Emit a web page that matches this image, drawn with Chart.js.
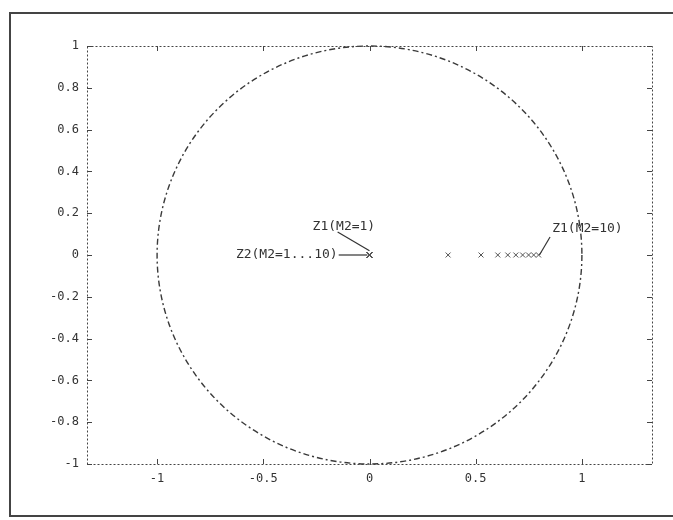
<!DOCTYPE html>
<html>
<head>
<meta charset="utf-8">
<script src="https://cdn.jsdelivr.net/npm/chart.js@4/dist/chart.umd.min.js"></script>
<style>
  html, body { margin: 0; padding: 0; background: #fff; }
  #wrap { width: 673px; height: 520px; position: relative; }
</style>
</head>
<body>
<div id="wrap"><canvas id="zplot"></canvas></div>
<script>
// --- data ---
const m2Values = [1, 2, 3, 4, 5, 6, 7, 8, 9, 10];
const z1Real = [0, 0.37, 0.525, 0.604, 0.651, 0.689, 0.721, 0.749, 0.773, 0.796];
const z1Imag = [0, 0, 0, 0, 0, 0, 0, 0, 0, 0];
const z2Real = [0, 0, 0, 0, 0, 0, 0, 0, 0, 0];
const z2Imag = [0, 0, 0, 0, 0, 0, 0, 0, 0, 0];
const circleRadius = [1];
const xTickValues = [-1, -0.5, 0, 0.5, 1];
const xTickLabels = ['-1', '-0.5', '0', '0.5', '1'];
const yTickValues = [-1, -0.8, -0.6, -0.4, -0.2, 0, 0.2, 0.4, 0.6, 0.8, 1];
const yTickLabels = ['-1', '-0.8', '-0.6', '-0.4', '-0.2', '0', '0.2', '0.4', '0.6', '0.8', '1'];
const noteTexts = ['Z1(M2=1)', 'Z2(M2=1...10)', 'Z1(M2=10)'];

const INK = '#333';
const FONT = "13px 'DejaVu Sans Mono', monospace";

// annotation placement (data coords)
const notes = [
    { text: noteTexts[0], tx: -0.268, ty: 0.134, align: 'left', line: [[-0.15, 0.11], [0.0, 0.02]] },
    { text: noteTexts[1], tx: -0.15, ty: 0.0, align: 'right', line: [[-0.145, 0], [-0.01, 0]] },
    { text: noteTexts[2], tx: 0.86, ty: 0.124, align: 'left', line: [[0.85, 0.086], [0.80, 0.0]] }
];

const toPoints = (xs, ys) => xs.map((x, i) => ({ x, y: ys[i] }));

const decor = {
    id: 'decor',
    beforeDraw(chart) {
        const { ctx } = chart;
        ctx.save();
        ctx.fillStyle = '#fff';
        ctx.fillRect(0, 0, chart.width, chart.height);
        // outer frame
        ctx.strokeStyle = '#444';
        ctx.lineWidth = 2;
        ctx.strokeRect(10, 13, 700, 503);
        ctx.restore();
    },
    beforeDatasetsDraw(chart) {
        const { ctx, scales: { x, y } } = chart;
        const cx = x.getPixelForValue(0), cy = y.getPixelForValue(0);
        const rx = x.getPixelForValue(circleRadius[0]) - cx;
        const ry = cy - y.getPixelForValue(circleRadius[0]);
        ctx.save();
        ctx.strokeStyle = '#3a3a3a';
        ctx.lineWidth = 1.4;
        ctx.setLineDash([6, 3, 2, 3]);
        ctx.beginPath();
        ctx.ellipse(cx, cy, rx, ry, 0, 0, Math.PI * 2);
        ctx.stroke();
        ctx.restore();
    },
    afterDatasetsDraw(chart) {
        const { ctx, scales: { x, y } } = chart;
        ctx.save();
        ctx.strokeStyle = INK;
        ctx.fillStyle = INK;
        ctx.lineWidth = 1.2;
        ctx.font = FONT;
        ctx.textBaseline = 'middle';
        notes.forEach(n => {
            ctx.beginPath();
            ctx.moveTo(x.getPixelForValue(n.line[0][0]), y.getPixelForValue(n.line[0][1]));
            ctx.lineTo(x.getPixelForValue(n.line[1][0]), y.getPixelForValue(n.line[1][1]));
            ctx.stroke();
            ctx.textAlign = n.align;
            ctx.fillText(n.text, x.getPixelForValue(n.tx), y.getPixelForValue(n.ty));
        });
        ctx.restore();
    },
    afterDraw(chart) {
        const { ctx, chartArea: a, scales: { x, y } } = chart;
        ctx.save();
        ctx.strokeStyle = '#444';
        ctx.lineWidth = 1;
        ctx.setLineDash([2, 2]);
        ctx.strokeRect(a.left + 0.5, a.top + 0.5, a.right - a.left, a.bottom - a.top);
        ctx.setLineDash([]);
        ctx.beginPath();
        x.ticks.forEach(t => {
            const px = Math.round(x.getPixelForValue(t.value)) + 0.5;
            ctx.moveTo(px, a.top); ctx.lineTo(px, a.top + 5);
            ctx.moveTo(px, a.bottom); ctx.lineTo(px, a.bottom - 5);
        });
        y.ticks.forEach(t => {
            const py = Math.round(y.getPixelForValue(t.value)) + 0.5;
            ctx.moveTo(a.left, py); ctx.lineTo(a.left + 5, py);
            ctx.moveTo(a.right, py); ctx.lineTo(a.right - 5, py);
        });
        ctx.stroke();
        ctx.restore();
    }
};

new Chart(document.getElementById('zplot'), {
    type: 'scatter',
    data: {
        datasets: [
            {
                label: 'Z1',
                data: toPoints(z1Real, z1Imag),
                pointStyle: 'crossRot',
                pointRadius: 3.5,
                borderColor: '#555',
                borderWidth: 1,
                showLine: false
            },
            {
                label: 'Z2',
                data: toPoints(z2Real, z2Imag),
                pointStyle: 'crossRot',
                pointRadius: 3.5,
                borderColor: '#555',
                borderWidth: 1,
                showLine: false
            }
        ]
    },
    options: {
        responsive: true,
        maintainAspectRatio: false,
        animation: false,
        layout: { padding: { top: 46, right: 21, left: 0, bottom: 0 } },
        plugins: { legend: { display: false }, tooltip: { enabled: false } },
        scales: {
            x: {
                type: 'linear',
                min: -1.33,
                max: 1.33,
                afterBuildTicks: s => { s.ticks = xTickValues.map(v => ({ value: v })); },
                afterFit: s => { s.height = 56; },
                grid: { display: false, drawTicks: false },
                border: { display: false },
                ticks: {
                    padding: 8,
                    color: INK,
                    font: { family: "'DejaVu Sans Mono', monospace", size: 12 },
                    callback: (v) => xTickLabels[xTickValues.indexOf(v)]
                }
            },
            y: {
                type: 'linear',
                min: -1,
                max: 1,
                afterBuildTicks: s => { s.ticks = yTickValues.map(v => ({ value: v })); },
                afterFit: s => { s.width = 87; },
                grid: { display: false, drawTicks: false },
                border: { display: false },
                ticks: {
                    padding: 8,
                    color: INK,
                    font: { family: "'DejaVu Sans Mono', monospace", size: 12 },
                    callback: (v) => yTickLabels[yTickValues.indexOf(v)]
                }
            }
        }
    },
    plugins: [decor]
});
</script>
</body>
</html>
